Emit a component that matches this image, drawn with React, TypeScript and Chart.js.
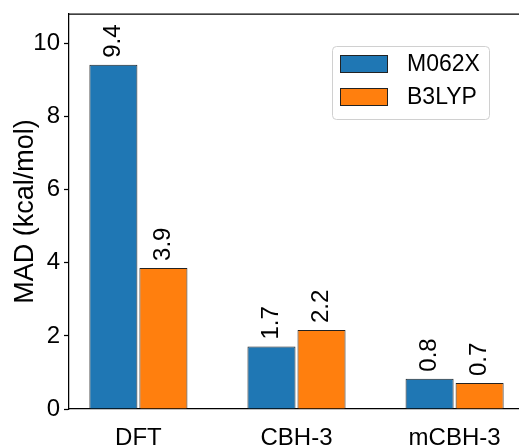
import React, { useEffect, useRef } from "react";
import { Chart, registerables } from "chart.js";

Chart.register(...registerables);

const categories = ["DFT", "CBH-3", "mCBH-3"];
const seriesNames = ["M062X", "B3LYP"];
const m062xValues = [9.42, 1.71, 0.83];
const b3lypValues = [3.86, 2.16, 0.71];
const seriesColors = ["#1f77b4", "#ff7f0e"];
const yTickValues = [0, 2, 4, 6, 8, 10];

const FONT = "'Liberation Sans', Arial, Helvetica, sans-serif";

const topSpinePlugin = {
  id: "topSpine",
  afterDraw(chart: any) {
    const { ctx, chartArea } = chart;
    ctx.save();
    ctx.strokeStyle = "#000";
    ctx.lineWidth = 1.25;
    ctx.beginPath();
    ctx.moveTo(chartArea.left, chartArea.top);
    ctx.lineTo(chartArea.right, chartArea.top);
    ctx.stroke();
    ctx.restore();
  },
};

const valueLabelPlugin = {
  id: "valueLabels",
  afterDatasetsDraw(chart: any) {
    const { ctx } = chart;
    ctx.save();
    ctx.font = `24px ${FONT}`;
    ctx.fillStyle = "#000";
    ctx.textAlign = "left";
    ctx.textBaseline = "middle";
    chart.data.datasets.forEach((ds: any, di: number) => {
      const meta = chart.getDatasetMeta(di);
      meta.data.forEach((bar: any, i: number) => {
        const v = ds.data[i].y;
        ctx.save();
        ctx.translate(bar.x, bar.y - 7);
        ctx.rotate(-Math.PI / 2);
        ctx.fillText(v.toFixed(1), 0, 0);
        ctx.restore();
      });
    });
    ctx.restore();
  },
};

const legendPlugin = {
  id: "customLegend",
  afterDraw(chart: any) {
    const { ctx } = chart;
    const x0 = 332, y0 = 46, w = 157, h = 73, r = 4;
    ctx.save();
    ctx.fillStyle = "rgba(255,255,255,0.8)";
    ctx.strokeStyle = "#d0d0d0";
    ctx.lineWidth = 1;
    ctx.beginPath();
    ctx.roundRect(x0 + 0.5, y0 + 0.5, w, h, r);
    ctx.fill();
    ctx.stroke();
    ctx.font = `23px ${FONT}`;
    ctx.textAlign = "left";
    ctx.textBaseline = "middle";
    chart.data.datasets.forEach((ds: any, i: number) => {
      const py = 55 + i * 33;
      ctx.fillStyle = ds.backgroundColor;
      ctx.fillRect(340, py, 47, 17);
      ctx.strokeStyle = ds.borderColor;
      ctx.lineWidth = 1;
      ctx.strokeRect(340.5, py + 0.5, 47, 17);
      ctx.fillStyle = "#000";
      ctx.fillText(ds.label, 407, py + 10);
    });
    ctx.restore();
  },
};

export default function App() {
  const ref = useRef<HTMLCanvasElement>(null);
  useEffect(() => {
    if (!ref.current) return;
    const seriesValues = [m062xValues, b3lypValues];
    const chart = new Chart(ref.current, {
      type: "bar",
      data: {
        datasets: seriesNames.map((name, s) => ({
          label: name,
          data: seriesValues[s].map((v, i) => ({ x: i, y: v })),
          backgroundColor: seriesColors[s],
          borderColor: "#222",
          borderWidth: 1,
          categoryPercentage: 0.633,
          barPercentage: 0.96,
        })),
      },
      options: {
        responsive: false,
        animation: false,
        events: [],
        layout: { padding: { top: 14, left: 0, right: 0, bottom: 0 } },
        plugins: {
          legend: { display: false },
          tooltip: { enabled: false },
        },
        scales: {
          x: {
            type: "linear",
            min: -0.439,
            max: 2.439,
            offset: false,
            grid: { display: false, offset: false },
            border: { display: true, color: "#000", width: 1.25 },
            afterBuildTicks(scale: any) {
              scale.ticks = categories.map((_, i) => ({ value: i }));
            },
            afterFit(scale: any) {
              scale.height = 38;
              scale.paddingLeft = 0;
              scale.paddingRight = 0;
            },
            ticks: {
              autoSkip: false,
              maxRotation: 0,
              padding: 7,
              color: "#000",
              font: { family: FONT, size: 24 },
              callback: (v: any) => categories[Math.round(v)] ?? "",
            },
          },
          y: {
            min: 0,
            max: 10.81,
            grid: {
              display: true,
              drawOnChartArea: false,
              drawTicks: true,
              tickLength: 5,
              tickWidth: 1.25,
              tickColor: "#000",
            },
            border: { display: true, color: "#000", width: 1.25 },
            afterBuildTicks(scale: any) {
              scale.ticks = yTickValues.map((v) => ({ value: v }));
            },
            afterFit(scale: any) {
              scale.width = 69;
              scale.paddingTop = 0;
              scale.paddingBottom = 0;
            },
            ticks: {
              padding: 4,
              color: "#000",
              font: { family: FONT, size: 24 },
            },
            title: {
              display: true,
              text: "MAD (kcal/mol)",
              color: "#000",
              font: { family: FONT, size: 27, lineHeight: 1 },
              padding: { top: 12, bottom: 0 },
            },
          },
        },
      },
      plugins: [topSpinePlugin, valueLabelPlugin, legendPlugin],
    } as any);
    return () => chart.destroy();
  }, []);

  return (
    <div
      style={{
        position: "fixed",
        left: 0,
        top: 0,
        width: 519,
        height: 447,
        overflow: "hidden",
        background: "#fff",
      }}
    >
      <canvas ref={ref} width={524} height={447} style={{ display: "block" }} />
    </div>
  );
}
